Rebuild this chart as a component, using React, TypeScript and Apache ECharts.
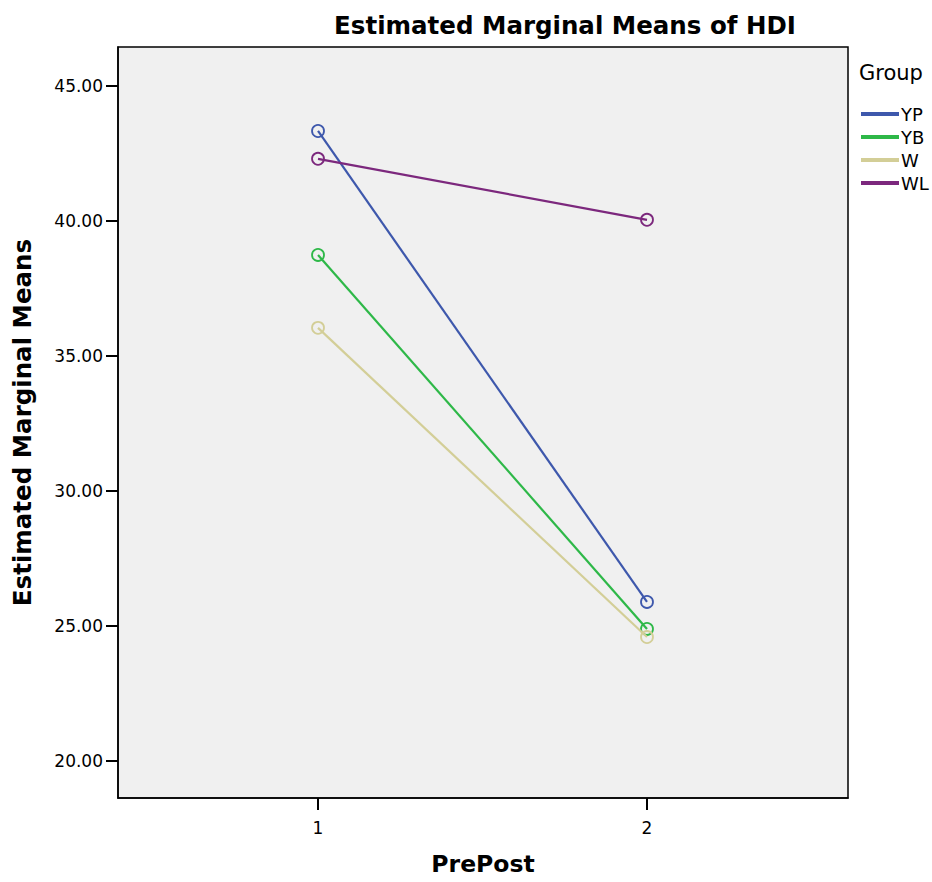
import React, { useEffect, useRef } from "react";
import * as echarts from "echarts";

const prePost = [1, 2];
const groups = ["YP", "YB", "W", "WL"];
const colors = ["#3E58AC", "#2EB848", "#D3CE97", "#7C287D"];
const ypValues = [43.33, 25.89];
const ybValues = [38.74, 24.89];
const wValues = [36.04, 24.59];
const wlValues = [42.3, 40.04];
const yTicks = [20, 25, 30, 35, 40, 45];

const seriesValues = [ypValues, ybValues, wValues, wlValues];

export default function App() {
  const ref = useRef<HTMLDivElement>(null);
  useEffect(() => {
    if (!ref.current) return;
    const chart = echarts.init(ref.current, null, { renderer: "svg" });
    const font = "DejaVu Sans, Liberation Sans, Arial, sans-serif";
    chart.setOption({
      animation: false,
      backgroundColor: "#ffffff",
      textStyle: { fontFamily: font },
      title: {
        text: "Estimated Marginal Means of HDI",
        left: 560,
        top: 8,
        textAlign: "center",
        textStyle: { fontSize: 24.5, fontWeight: "bold", color: "#000", fontFamily: font },
      },
      legend: {
        orient: "vertical",
        left: 856,
        top: 100,
        itemWidth: 36,
        itemHeight: 2,
        itemGap: 5,
        icon: "rect",
        data: groups,
        textStyle: { fontSize: 18, color: "#000", fontFamily: font, padding: [0, 0, 0, -2] },
      },
      graphic: [
        {
          type: "text",
          left: 859,
          top: 62,
          style: { text: "Group", fontSize: 21, fill: "#000", fontFamily: font },
        },
      ],
      grid: {
        left: 118,
        top: 47,
        width: 730,
        height: 751,
        show: true,
        backgroundColor: "#f0f0f0",
        borderColor: "#000",
        borderWidth: 1.5,
      },
      xAxis: {
        type: "value",
        min: 0.392,
        max: 2.611,
        name: "PrePost",
        nameLocation: "middle",
        nameGap: 54,
        nameTextStyle: { fontSize: 23.5, fontWeight: "bold", color: "#000", fontFamily: font },
        axisLine: { show: true, lineStyle: { color: "#000", width: 1.5 } },
        axisTick: { show: true, inside: false, length: 12, customValues: prePost, lineStyle: { color: "#000", width: 2 } },
        axisLabel: { customValues: prePost, fontSize: 17, color: "#000", margin: 21, fontFamily: font },
        splitLine: { show: false },
      },
      yAxis: {
        type: "value",
        min: 18.63,
        max: 46.44,
        name: "Estimated Marginal Means",
        nameLocation: "middle",
        nameGap: 83,
        nameTextStyle: { fontSize: 24.5, fontWeight: "bold", color: "#000", fontFamily: font },
        axisLine: { show: true, lineStyle: { color: "#000", width: 1.5 } },
        axisTick: { show: true, inside: false, length: 12, customValues: yTicks, lineStyle: { color: "#000", width: 2 } },
        axisLabel: {
          customValues: yTicks,
          fontSize: 17,
          color: "#000",
          margin: 15,
          fontFamily: font,
          formatter: (v: number) => v.toFixed(2),
        },
        splitLine: { show: false },
      },
      series: groups.map((g, i) => ({
        name: g,
        type: "line",
        data: prePost.map((x, j) => [x, seriesValues[i][j]]),
        symbol: "circle",
        symbolSize: 12,
        lineStyle: { color: colors[i], width: 2.2 },
        itemStyle: { color: "rgba(0,0,0,0)", borderColor: colors[i], borderWidth: 1.8 },
        z: 2 + i,
      })),
    });
    return () => chart.dispose();
  }, []);
  return (
    <div
      ref={ref}
      style={{ position: "fixed", left: 0, top: 0, width: 932, height: 882 }}
    />
  );
}
